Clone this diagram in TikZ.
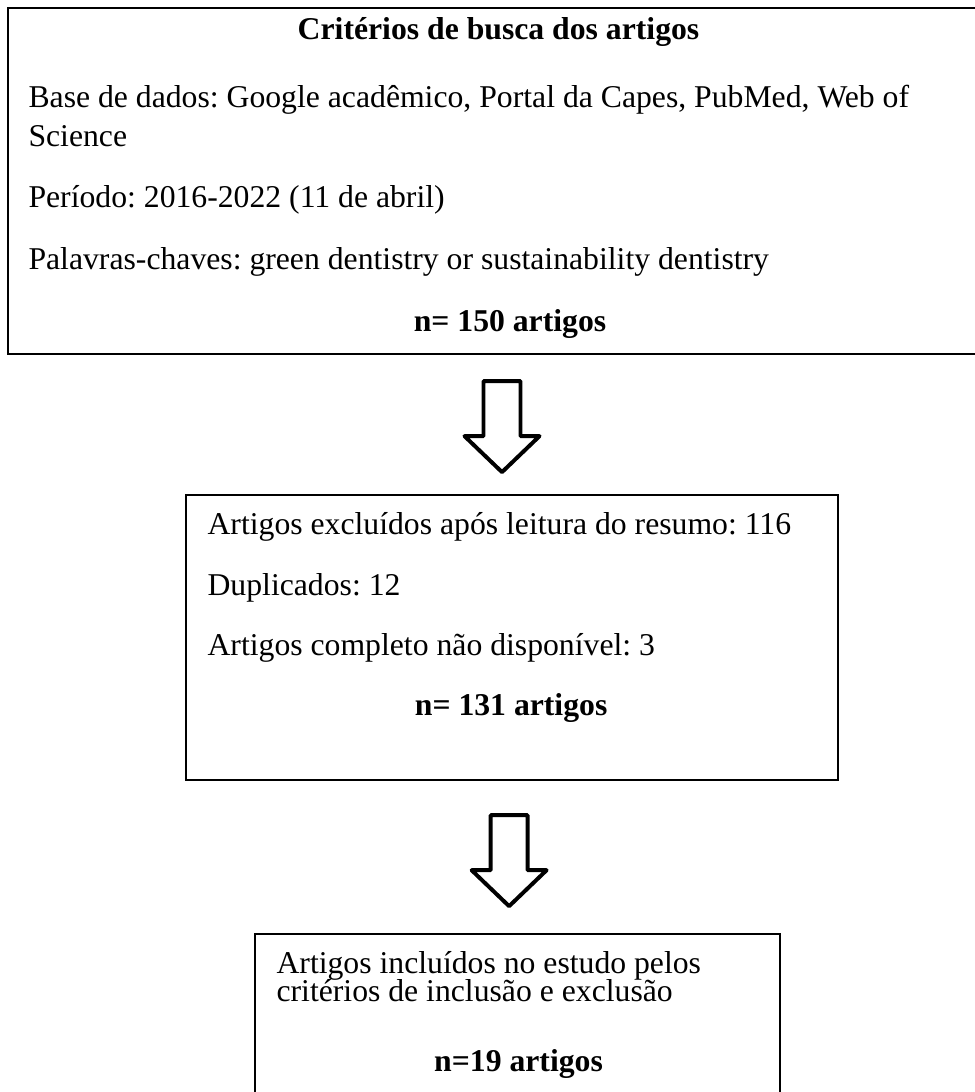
\documentclass[tikz,border=0pt]{standalone}
\usepackage{fontspec}
\setmainfont{Liberation Serif}
\usetikzlibrary{positioning, calc}
\frenchspacing

\begin{document}
\begin{tikzpicture}[
    x=0.3785pt, y=-0.3785pt,
    caixa/.style={rectangle, draw, line width=0.76pt, inner sep=0pt, anchor=north west},
    linha/.style={anchor=base west, inner sep=0pt, font=\fontsize{12}{14}\selectfont},
    total/.style={anchor=base, inner sep=0pt, font=\fontsize{12}{14}\selectfont\bfseries},
    seta/.style={draw, line width=1.5pt, line join=round},
    setabaixo/.pic={
      \draw[seta] (-18.5,0) -- (18.5,0) -- (18.5,55) -- (37.5,55) -- (0,91)
        -- (-37.5,55) -- (-18.5,55) -- cycle;
    }
  ]

    \useasboundingbox (0,0) rectangle (975,1092);
    \clip (0,0) rectangle (975,1092);

    % caixas
    \node[caixa, minimum width=371.3pt, minimum height=131pt] (busca) at (7,7) {};
    \node[caixa, minimum width=246.8pt, minimum height=107.9pt,
      below right=52.6pt and 67.4pt of busca.south west] (exclusao) {};
    \node[caixa, minimum width=198.7pt, minimum height=75.7pt,
      below right=57.5pt and 26.1pt of exclusao.south west] (incluidos) {};

    % textos da busca
    \node[total] (titulo) at ($(busca.north)+(0,33)$) {Critérios de busca dos artigos};
    \node[linha] (base) at ($(busca.north west)+(21,101)$)
      {Base de dados: Google acadêmico, Portal da Capes, PubMed, Web of};
    \node[linha] (science) at ($(busca.north west)+(21,140)$) {Science};
    \node[linha] (periodo) at ($(busca.north west)+(21,201)$) {Período: 2016-2022 (11 de abril)};
    \node[linha] (palavras) at ($(busca.north west)+(21,263)$)
      {Palavras-chaves: green dentistry or sustainability dentistry};
    \node[total] (n150) at ($(busca.north)+(11.5,325)$) {n= 150 artigos};

    % textos da exclusao
    \node[linha] (excluidos) at ($(exclusao.north west)+(22,40)$)
      {Artigos excluídos após leitura do resumo: 116};
    \node[linha] (duplicados) at ($(exclusao.north west)+(22,101)$) {Duplicados: 12};
    \node[linha] (indisp) at ($(exclusao.north west)+(22,161)$)
      {Artigos completo não disponível: 3};
    \node[total] (n131) at ($(exclusao.north)+(-1,221)$) {n= 131 artigos};

    % textos dos incluidos
    \node[linha] (incl1) at ($(incluidos.north west)+(22,40)$)
      {Artigos incluídos no estudo pelos};
    \node[linha] (incl2) at ($(incluidos.north west)+(22,68)$)
      {critérios de inclusão e exclusão};
    \node[total] (n19) at ($(incluidos.north)+(1,138)$) {n=19 artigos};

    % setas
    \pic at ($(busca.south)+(3.5,26)$) {setabaixo};
    \pic at ($(exclusao.south)+(-3,34)$) {setabaixo};

\end{tikzpicture}
\end{document}
